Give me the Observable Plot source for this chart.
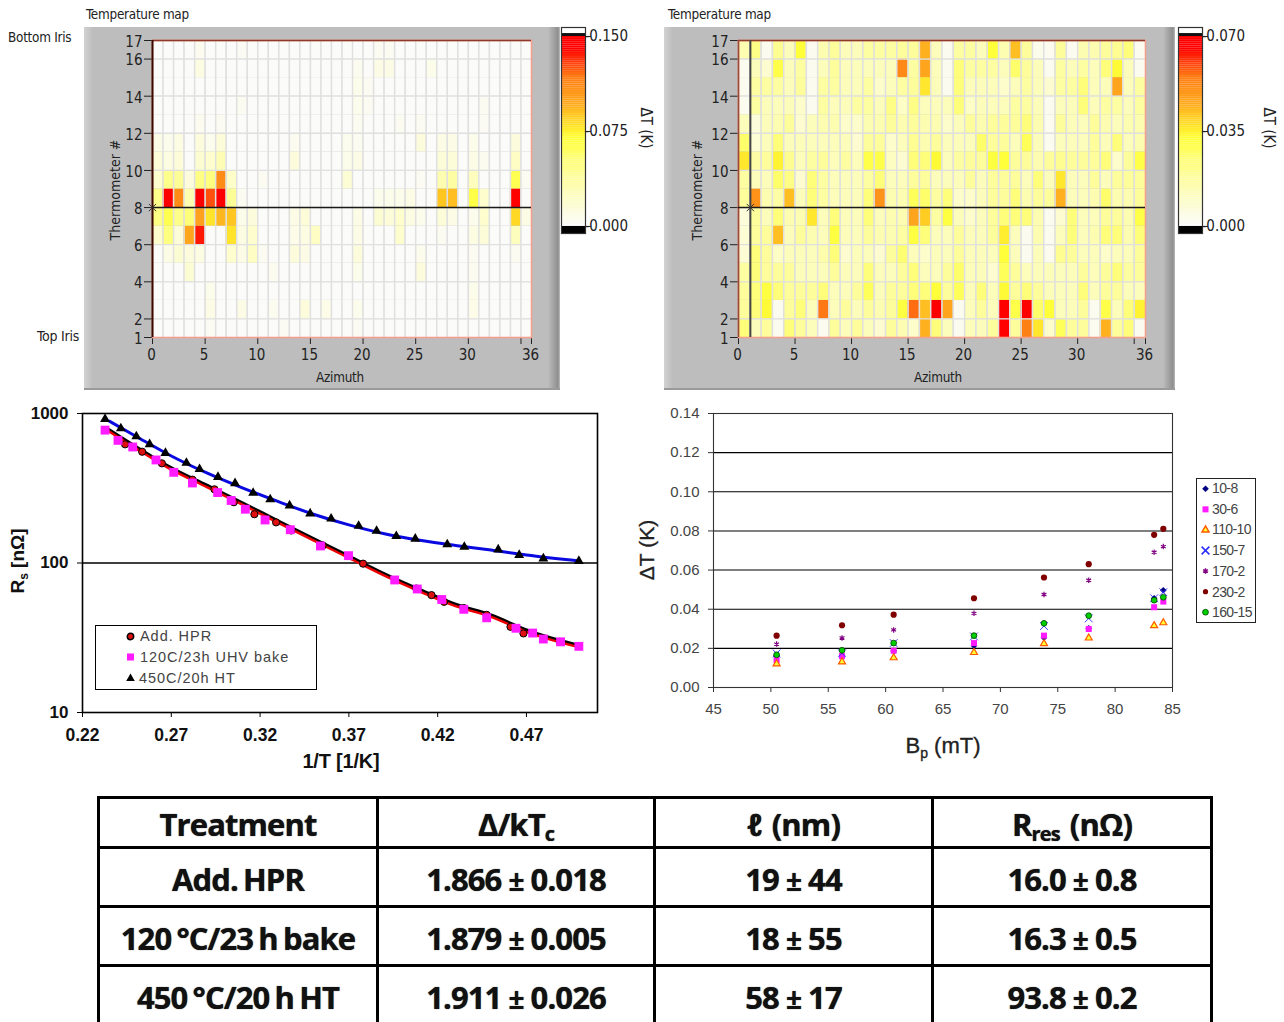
<!DOCTYPE html>
<html><head><meta charset="utf-8">
<script src="https://cdn.jsdelivr.net/npm/d3@7"></script>
<script src="https://cdn.jsdelivr.net/npm/@observablehq/plot@0.6"></script>
<style>
html,body{margin:0;padding:0;background:#fff;}
#page{position:relative;width:1284px;height:1022px;overflow:hidden;background:#fff;}
.abs{position:absolute;}
.abs svg{background:transparent;overflow:visible;display:block;}
.lv{font-family:"Liberation Sans Narrow","DejaVu Sans Condensed",sans-serif;font-size:14px;color:#222;white-space:nowrap;position:absolute;line-height:1;}
.ar{font-family:"Liberation Sans",Arial,sans-serif;white-space:nowrap;position:absolute;line-height:1;}
.panel{position:absolute;background:linear-gradient(to right,#d2d2d2 0,#bdbdbd 9px,#bdbdbd calc(100% - 12px),#8e8e8e calc(100% - 2px),#bdbdbd 100%);border-bottom:2px solid #9a9a9a;box-sizing:border-box;}
table{position:absolute;left:97px;top:796px;width:1113px;border-collapse:collapse;table-layout:fixed;font-family:"Open Sans","Liberation Sans",sans-serif;font-weight:700;color:#111;}
td{border:3px solid #000;text-align:center;padding:4px 0 0 0;font-size:31px;letter-spacing:-.9px;word-spacing:-2px;line-height:1;text-shadow:0 0 1px #333;}
td sub{font-size:20px;vertical-align:-5px;line-height:0;}
td span{font-size:28px;margin:0 7px;}
tr:first-child td{word-spacing:3px;}
</style></head><body><div id="page"></div>
<script>
// ---------- Temperature map 1 (mK, scale 0–150): [azimuth bin, value] per thermometer row
const map1Max = 150;
const map1Row16 = [[4,4],[8,2],[21,3],[22,3]];
const map1Row15 = [[4,10],[19,4],[21,8],[22,8],[26,6]];
const map1Row14 = [[19,6],[20,3]];
const map1Row13 = [[8,3],[19,5],[20,3],[31,3]];
const map1Row12 = [[4,4],[6,3],[19,3],[23,3],[25,3],[31,2]];
const map1Row11 = [[0,8],[1,5],[2,10],[4,12],[5,5],[6,14],[13,4],[18,5],[19,3],[25,12],[27,8],[28,8],[30,6],[34,12]];
const map1Row10 = [[0,14],[1,10],[2,14],[4,16],[5,18],[6,28],[13,12],[18,6],[19,8],[27,14],[28,14],[30,8],[31,4],[34,22]];
const map1Row9 = [[0,18],[1,45],[2,40],[3,12],[4,48],[5,50],[6,110],[7,20],[10,3],[18,15],[25,3],[27,30],[28,35],[30,25],[34,62],[35,3]];
const map1Row8 = [[0,45],[1,145],[2,110],[3,30],[4,145],[5,125],[6,145],[7,40],[8,3],[21,5],[22,6],[23,6],[24,8],[27,88],[28,90],[30,65],[31,18],[34,145]];
const map1Row7 = [[0,48],[1,62],[2,45],[3,52],[4,100],[5,78],[6,92],[7,88],[8,6],[9,12],[13,8],[14,14],[19,8],[21,16],[22,14],[23,18],[24,10],[25,5],[27,14],[28,8],[30,5],[31,18],[34,82],[35,8]];
const map1Row6 = [[0,18],[1,50],[2,14],[3,98],[4,135],[7,78],[8,10],[9,18],[13,7],[14,10],[15,22],[19,8],[23,18],[27,3],[30,10],[31,14],[34,25]];
const map1Row5 = [[1,8],[2,16],[3,12],[4,10],[7,18],[8,8],[9,22],[10,3],[13,12],[14,8],[19,12],[25,5],[30,3],[34,3]];
const map1Row4 = [[3,16],[11,4],[19,6],[25,12],[30,4]];
const map1Row3 = [[5,6],[30,6]];
const map1Row2 = [[5,8],[8,8],[11,4],[14,12],[16,7],[19,5],[30,7]];
const map1Row1 = [[5,2],[12,2],[19,2]];
const map1Rows = [map1Row1,map1Row2,map1Row3,map1Row4,map1Row5,map1Row6,map1Row7,map1Row8,map1Row9,map1Row10,map1Row11,map1Row12,map1Row13,map1Row14,map1Row15,map1Row16];

// ---------- Temperature map 2 (mK, scale 0–70): one value per azimuth bin
const map2Max = 70;
const map2Row16 = [14,22,2,20,12,32,2,14,18,12,12,17,17,17,18,18,44,12,2,17,17,12,32,14,42,18,3,2,18,2,14,14,18,20,24,2];
const map2Row15 = [2,12,8,30,12,17,2,12,18,12,12,12,12,12,52,17,46,12,2,24,17,17,17,12,26,18,12,2,17,12,17,12,24,33,12,2];
const map2Row14 = [2,17,17,17,12,18,2,17,17,12,12,17,9,12,17,18,36,12,2,24,12,12,12,9,12,17,12,8,17,17,24,12,12,46,12,17];
const map2Row13 = [2,17,12,12,12,9,2,17,12,12,17,17,12,22,10,22,12,12,12,24,10,12,12,12,17,17,12,2,12,12,24,12,17,17,12,17];
const map2Row12 = [12,6,12,14,18,8,12,14,14,9,9,14,14,18,14,18,14,14,9,12,18,14,18,18,18,24,14,2,18,12,12,18,14,12,14,14];
const map2Row11 = [26,7,12,24,12,12,12,12,12,12,8,18,18,9,12,20,14,18,12,12,12,26,18,18,12,28,12,2,12,12,12,18,12,24,12,14];
const map2Row10 = [36,16,18,34,20,12,17,18,12,17,12,30,30,11,8,24,24,33,12,17,18,18,31,32,18,18,14,18,20,18,18,18,24,9,18,30];
const map2Row9 = [17,12,12,26,22,8,24,17,12,12,12,17,24,12,12,18,18,12,12,12,18,12,18,18,18,12,24,12,36,12,12,18,12,18,18,18];
const map2Row8 = [18,50,14,16,42,12,24,17,12,12,12,24,50,14,14,28,26,17,24,9,9,12,18,18,24,14,18,18,44,12,12,14,26,14,14,18];
const map2Row7 = [6,18,12,24,14,14,36,12,24,12,12,24,12,14,14,46,40,17,31,12,9,12,18,24,24,24,14,2,8,24,12,12,18,18,14,30];
const map2Row6 = [7,18,18,42,12,18,14,12,31,12,12,18,14,14,17,31,24,12,12,18,12,12,18,35,12,2,14,2,12,24,12,14,24,24,14,24];
const map2Row5 = [7,24,18,10,12,12,12,15,24,8,12,12,8,18,25,12,9,12,12,18,12,12,12,32,12,2,12,2,20,18,12,12,9,12,12,18];
const map2Row4 = [17,24,18,18,18,12,12,12,18,12,12,24,12,12,18,24,12,12,18,26,12,12,8,28,18,12,12,12,12,12,18,12,18,24,17,18];
const map2Row3 = [18,24,31,24,18,18,18,24,12,12,18,28,12,18,18,24,24,32,18,28,12,24,12,33,18,24,18,12,12,12,24,12,18,18,12,12];
const map2Row2 = [18,24,33,2,18,24,12,55,12,18,12,18,14,18,31,56,42,68,46,2,12,18,12,70,30,67,26,32,12,12,18,2,30,12,24,34];
const map2Row1 = [24,12,18,2,24,18,12,2,18,12,18,12,8,18,14,9,44,24,12,2,12,12,18,65,18,54,36,9,28,18,18,2,44,18,24,2];
const map2Rows = [map2Row1,map2Row2,map2Row3,map2Row4,map2Row5,map2Row6,map2Row7,map2Row8,map2Row9,map2Row10,map2Row11,map2Row12,map2Row13,map2Row14,map2Row15,map2Row16];

const yTicks = [1,2,4,6,8,10,12,14,16,17];
const xTicks = [0,5,10,15,20,25,30,35,36];
const colorStops = [0,.06,.17,.24,.34,.46,.56,.64,.78,.93,1];
const colorRange = ["#fbfbf9","#fcfce4","#fdfdbc","#fdfda2","#fefe7c","#ffff38","#ffd223","#ffaa1e","#ff7d14","#ff0000","#ff0000"];

// ---------- Rs(1/T)
const hprX = [.2440,.2536,.2647,.2819,.2943,.3052,.3168,.3290,.3375,.3553,.3780,.4080,.4165,.4236,.4347,.4476,.4610,.4683,.4888];
const hprY = [622,555,464,361,311,255,212,187,165,131,99,67.5,61,55,50,45,37.4,33.8,29.7];
const bakeX = [.2327,.2400,.2483,.2614,.2714,.2819,.2961,.3037,.3117,.3228,.3370,.3540,.3698,.3958,.4085,.4223,.4347,.4476,.4641,.4735,.4795,.4892,.4995];
const bakeY = [774,661,597,489,404,343,296,262,229,194,167,130,112,77,67,57,49,43,36.6,34,31,29.7,27.7];
const htX = [.2327,.2416,.2503,.2578,.2667,.2785,.2859,.2963,.3059,.3161,.3257,.3366,.3482,.3600,.3755,.3856,.3967,.4074,.4254,.4350,.4541,.4659,.4795,.4995];
const htY = [917,794,702,622,544,467,424,376,341,294,266,242,214,198,177,164,151,145,133,128,123,113,107,103];
const fitX = [.235,.25,.27,.29,.31,.33,.35,.37,.39,.41,.43,.45,.47,.50];
const fitLowY = [765,590,425,325,248,188,143,109,83,65,52,44,35,27.5];
const fitHighY = [890,705,520,400,318,258,212,180,157,142,131,122,113,103];
const rsXTicks = [.22,.27,.32,.37,.42,.47];
const rsYTicks = [10,100,1000];

// ---------- ΔT(Bp)
const bp = [50.5,56.2,60.7,67.7,73.8,77.7,83.4,84.2];
const dt10_8 = [.0162,.0164,.0186,.0213,.0254,.0302,.0456,.0497];
const dt30_6 = [.014,.016,.0188,.0227,.0265,.0299,.041,.0439];
const dt110_10 = [.0121,.0131,.0152,.0179,.0224,.0253,.0316,.0331];
const dt150_7 = [.0174,.0175,.0227,.0261,.0314,.0353,.0456,.0487];
const dt170_2 = [.0222,.0253,.0294,.0379,.0475,.0548,.0691,.072];
const dt230_2 = [.0265,.0318,.0372,.0456,.0562,.063,.078,.0811];
const dt160_15 = [.0167,.019,.0227,.0265,.0328,.0367,.0446,.0461];

// ---------- table
const pm = '<span>±</span>';
const tableHeads = ['Treatment','Δ/kT<sub>c</sub>','<i>ℓ</i> (nm)','R<sub>res</sub> (nΩ)'];
const tableRow1 = ['Add. HPR','1.866'+pm+'0.018','19'+pm+'44','16.0'+pm+'0.8'];
const tableRow2 = ['120 °C/23 h bake','1.879'+pm+'0.005','18'+pm+'55','16.3'+pm+'0.5'];
const tableRow3 = ['450 °C/20 h HT','1.911'+pm+'0.026','58'+pm+'17','93.8'+pm+'0.2'];

const page = document.getElementById('page');
function place(node,x,y){const d=document.createElement('div');d.className='abs';d.style.left=x+'px';d.style.top=y+'px';d.appendChild(node);page.appendChild(d);return d;}
function txt(cls,s,x,y,extra){const d=document.createElement('div');d.className=cls;d.innerHTML=s;d.style.left=x+'px';d.style.top=y+'px';if(extra)Object.assign(d.style,extra);page.appendChild(d);return d;}
function panel(x,y,w,h){const d=document.createElement('div');d.className='panel';Object.assign(d.style,{left:x+'px',top:y+'px',width:w+'px',height:h+'px'});page.appendChild(d);}
const narrow='"Liberation Sans Narrow","DejaVu Sans Condensed",sans-serif';

function heatmap(rows,maxV,sparse,o){
  const cells = sparse
    ? d3.range(16).flatMap(r=>{const m=new Map(rows[r]);return d3.range(36).map(c=>({c,r:r+1,v:m.get(c)||0}));})
    : rows.flatMap((row,r)=>row.map((v,c)=>({c,r:r+1,v})));
  return Plot.plot({
    width:o.w,height:363,marginLeft:o.ml,marginRight:o.w-o.ml-o.pw,marginTop:13,marginBottom:53,
    x:{domain:[0,36],label:null,axis:null},
    y:{domain:[1,17],label:null,axis:null},
    color:{type:"linear",domain:colorStops.map(f=>f*maxV),range:colorRange,clamp:true,interpolate:"rgb"},
    marks:[
      Plot.rect(cells,{x1:d=>d.c,x2:d=>d.c+1,y1:d=>d.r,y2:d=>d.r+1,fill:d=>d.v}),
      Plot.ruleX(d3.range(1,36),{stroke:"#e0e0e0",strokeWidth:1.5}),
      Plot.ruleY([2,4,6,8,10,12,14,16],{stroke:"#e0e0e0",strokeWidth:1.3}),
      Plot.axisX(xTicks,{anchor:"bottom",tickSize:7,tickFormat:()=>"",label:null,stroke:"#222"}),
      Plot.axisX(xTicks,{anchor:"bottom",tickSize:0,tickPadding:12,dx:-1,label:null,stroke:"none",fontSize:15,fontFamily:narrow,fill:"#222",tickFormat:d=>d===35?"":d}),
      Plot.axisY(yTicks,{anchor:"left",tickSize:8,tickFormat:()=>"",label:null,stroke:"#222"}),
      Plot.axisY(yTicks,{anchor:"left",tickSize:0,tickPadding:10,dy:1.5,label:null,stroke:"none",fontSize:15,fontFamily:narrow,fill:"#222"}),
      Plot.frame({stroke:"#f4a08f",strokeWidth:1.6}),
      Plot.ruleY([17],{stroke:"#8c3a2a",strokeWidth:1.6}),
      Plot.ruleX([0],{stroke:o.leftStroke,strokeWidth:o.leftW}),
      Plot.ruleY([8],{stroke:"#1a1a1a",strokeWidth:1.6}),
      o.cross>0?Plot.ruleX([o.cross],{stroke:"#444",strokeWidth:2}):null,
      Plot.dot([[o.cross,8]],{x:d=>d[0],y:d=>d[1],symbol:"times",r:3.4,stroke:"#333",strokeWidth:1})
    ]
  });
}
function colorbar(maxV,fmt,w){
  const top=maxV*(1+9/189), bot=-maxV*7/189;
  const levels=d3.range(0,100).map(i=>i/100*maxV);
  const step=maxV/100;
  return Plot.plot({
    width:w,height:206,marginLeft:0,marginRight:w-24,marginTop:0,marginBottom:0,
    x:{domain:[0,1],axis:null},
    y:{domain:[bot,top],axis:null},
    color:{type:"linear",domain:colorStops.map(f=>f*maxV),range:colorRange,clamp:true,interpolate:"rgb"},
    marks:[
      Plot.rect(levels,{x1:0,x2:1,y1:d=>d,y2:d=>d+step*1.05,fill:d=>d}),
      Plot.rect([0],{x1:0,x2:1,y1:bot,y2:0,fill:"#000"}),
      Plot.rect([0],{x1:0,x2:1,y1:maxV,y2:maxV*(1+3/189),fill:"#111"}),
      Plot.rect([0],{x1:0,x2:1,y1:maxV*(1+3/189),y2:top,fill:"#fff"}),
      Plot.frame({stroke:"#333",strokeWidth:1.2}),
      Plot.axisY([0,maxV/2,maxV],{anchor:"right",tickSize:5,tickPadding:-6,label:null,stroke:"#222",fill:"#222",fontSize:15,fontFamily:narrow,tickFormat:fmt})
    ]
  });
}

// panels
panel(84,27,476,363);
panel(664,27,511,363);
place(heatmap(map1Rows,map1Max,true,{w:476,ml:68,pw:379,cross:0,leftStroke:"#3a0a00",leftW:2}),84,27);
place(heatmap(map2Rows,map2Max,false,{w:511,ml:74,pw:407,cross:1.05,leftStroke:"#9a4a38",leftW:1.6}),664,27);
place(colorbar(.15,d=>"-"+d.toFixed(3),80),561,27);
place(colorbar(.07,d=>"-"+d.toFixed(3),80),1178,27);

const lab={fontSize:'13.4px',letterSpacing:'-.25px'};
txt('lv','Temperature map',86,8,lab);
txt('lv','Temperature map',668,8,lab);
txt('lv','Bottom Iris',8,31,lab);
txt('lv','Top Iris',37,329,{...lab,fontSize:'14px'});
txt('lv','Azimuth',316,371,lab);
txt('lv','Azimuth',914,371,lab);
txt('lv','Thermometer #',115,190,{transform:'translate(-50%,-50%) rotate(-90deg)'});
txt('lv','Thermometer #',697,190,{transform:'translate(-50%,-50%) rotate(-90deg)'});
txt('lv','ΔT (K)',645,128,{transform:'translate(-50%,-50%) rotate(90deg)',fontSize:'15px'});
txt('lv','ΔT (K)',1268,128,{transform:'translate(-50%,-50%) rotate(90deg)',fontSize:'15px'});

// Rs plot
const zip=(xs,ys)=>xs.map((x,i)=>({x,y:ys[i]}));
const rsFont='"Liberation Sans",Arial,sans-serif';
const fitOpts={x:"x",y:"y",curve:"monotone-x"};
place(Plot.plot({
  width:620,height:385,marginLeft:82,marginRight:23,marginTop:18,marginBottom:68,
  x:{domain:[.22,.51],label:null,axis:null},
  y:{type:"log",domain:[10,1000],label:null,axis:null},
  marks:[
    Plot.ruleY([100],{stroke:"#000",strokeWidth:1.6}),
    Plot.line(zip(fitX,fitLowY),{...fitOpts,stroke:"#000",strokeWidth:3.6,dy:-1}),
    Plot.line(zip(fitX,fitLowY),{...fitOpts,stroke:"#f00000",strokeWidth:2.4,dy:.6}),
    Plot.line(zip(fitX,fitHighY),{...fitOpts,stroke:"#0a0ae0",strokeWidth:3}),
    Plot.dot(zip(hprX,hprY),{x:"x",y:"y",r:3.6,fill:"#e01010",stroke:"#000",strokeWidth:1}),
    Plot.dot(zip(htX,htY),{x:"x",y:"y",symbol:"triangle",r:3.7,fill:"#000"}),
    Plot.dot(zip(bakeX,bakeY),{x:"x",y:"y",symbol:"square",r:5,fill:"#ff1aff"}),
    Plot.frame({stroke:"#000",strokeWidth:1.6}),
    Plot.axisX(rsXTicks,{anchor:"bottom",tickSize:5,tickPadding:11,label:null,stroke:"#000",fill:"#111",fontSize:17.5,fontWeight:700,fontFamily:rsFont,tickFormat:d=>d.toFixed(2)}),
    Plot.axisY(rsYTicks,{anchor:"left",tickSize:5,tickPadding:9,label:null,stroke:"#000",fill:"#111",fontSize:17,fontWeight:700,fontFamily:rsFont,tickFormat:d=>String(d)})
  ]
}),0,395);
txt('ar','1/T [1/K]',341,761,{transform:'translate(-50%,-50%)',fontWeight:700,fontSize:'20px',letterSpacing:'-.2px',color:'#111'});
txt('ar','R<sub style="font-size:12px;line-height:0">s</sub> [nΩ]',17,561,{transform:'translate(-50%,-50%) rotate(-90deg)',fontWeight:700,fontSize:'19px',color:'#111'});

// Rs legend
const rsLegend=document.createElement('div');
Object.assign(rsLegend.style,{position:'absolute',left:'95px',top:'625px',width:'220px',height:'63px',border:'1px solid #000',background:'#fff'});
page.appendChild(rsLegend);
const rsKeyLabels=['Add. HPR','120C/23h UHV bake','450C/20h HT'];
const rsKeyY=[636,657,678];
place(Plot.plot({width:30,height:63,margin:0,x:{domain:[0,1],axis:null},y:{domain:[0,2],axis:null,reverse:true},
  marks:[
   Plot.dot([0],{x:.5,y:0,dy:11,r:3.2,fill:"#e01010",stroke:"#000"}),
   Plot.dot([0],{x:.5,y:1,symbol:"square",r:4,fill:"#ff1aff"}),
   Plot.dot([0],{x:.5,y:2,dy:-10,symbol:"triangle",r:3.2,fill:"#000"})
  ]}),115,625);
rsKeyLabels.forEach((s,i)=>txt('ar',s,i==2?139:140,rsKeyY[i]-7,{fontSize:'14.5px',color:'#444',letterSpacing:'.95px'}));

// ΔT plot
const scFont='"Liberation Sans",Arial,sans-serif';
place(Plot.plot({
  width:659,height:385,marginLeft:88,marginRight:112,marginTop:18,marginBottom:93,
  x:{domain:[45,85],label:null,axis:null},
  y:{domain:[0,.14],label:null,axis:null},
  marks:[
    Plot.ruleY([.02,.04,.06,.08,.1,.12],{stroke:"#000",strokeWidth:1.1}),
    Plot.frame({stroke:"#333",strokeWidth:1.1}),
    Plot.dot(zip(bp,dt10_8),{x:"x",y:"y",symbol:"diamond2",r:3,fill:"#000080"}),
    Plot.dot(zip(bp,dt30_6),{x:"x",y:"y",symbol:"square",r:3.4,fill:"#ff1aff"}),
    Plot.dot(zip(bp,dt110_10),{x:"x",y:"y",symbol:"triangle",r:2.6,fill:"#ffff33",stroke:"#ff5a00",strokeWidth:1.2}),
    Plot.dot(zip(bp,dt150_7),{x:"x",y:"y",symbol:"times",r:3.6,stroke:"#2a2aff",strokeWidth:.9}),
    Plot.dot(zip(bp,dt170_2),{x:"x",y:"y",symbol:"asterisk",r:2.6,stroke:"#800080",strokeWidth:1.2}),
    Plot.dot(zip(bp,dt230_2),{x:"x",y:"y",r:3.1,fill:"#800000"}),
    Plot.dot(zip(bp,dt160_15),{x:"x",y:"y",r:2.9,fill:"#00d000",stroke:"#004000",strokeWidth:.8}),
    Plot.axisX(d3.range(45,86,5),{anchor:"bottom",tickSize:5,tickPadding:11,label:null,stroke:"#333",fill:"#444",fontSize:15,fontFamily:scFont,tickFormat:d=>String(d)}),
    Plot.axisY(d3.range(0,.141,.02),{anchor:"left",tickSize:5,tickPadding:9,label:null,stroke:"#333",fill:"#444",fontSize:15,fontFamily:scFont,tickFormat:d=>d.toFixed(2)})
  ]
}),625,395);
const semi={WebkitTextStroke:'.35px #222'};
txt('ar','ΔT (K)',646,550,{transform:'translate(-50%,-50%) rotate(-90deg)',fontSize:'21px',color:'#222',...semi});
txt('ar','B<sub style="font-size:14px;line-height:0">p</sub> (mT)',943,746,{transform:'translate(-50%,-50%)',fontSize:'22px',color:'#222',...semi});

// ΔT legend
const dtKeys=['10-8','30-6','110-10','150-7','170-2','230-2','160-15'];
const dtBox=document.createElement('div');
Object.assign(dtBox.style,{position:'absolute',left:'1196px',top:'478px',width:'58px',height:'143px',border:'1.5px solid #222',background:'#fff'});
page.appendChild(dtBox);
place(Plot.plot({width:20,height:144,margin:0,
  x:{domain:[0,1],axis:null},y:{domain:[-.5,6.5],axis:null,reverse:true},
  marks:[
   Plot.dot([0],{x:.5,y:0,symbol:"diamond2",r:3,fill:"#000080"}),
   Plot.dot([1],{x:.5,y:1,symbol:"square",r:3.4,fill:"#ff1aff"}),
   Plot.dot([2],{x:.5,y:2,symbol:"triangle",r:2.6,fill:"#ffff33",stroke:"#ff5a00"}),
   Plot.dot([3],{x:.5,y:3,symbol:"times",r:3.6,stroke:"#2a2aff"}),
   Plot.dot([4],{x:.5,y:4,symbol:"asterisk",r:2.6,stroke:"#800080"}),
   Plot.dot([5],{x:.5,y:5,r:2.6,fill:"#800000"}),
   Plot.dot([6],{x:.5,y:6,r:2.9,fill:"#00d000",stroke:"#004000",strokeWidth:.8})
  ]}),1195,478);
dtKeys.forEach((s,i)=>txt('ar',s,1212,481+i*20.7,{fontSize:'14px',color:'#444',letterSpacing:'-.6px'}));

// table
const tb=document.createElement('table');
const rowsT=[tableHeads,tableRow1,tableRow2,tableRow3];
const hs=[50,59,59,59];
tb.innerHTML='<colgroup><col style="width:279px"><col style="width:277px"><col style="width:278px"><col style="width:279px"></colgroup>'+
  rowsT.map((r,i)=>`<tr style="height:${hs[i]}px">`+r.map(c=>`<td>${c}</td>`).join('')+'</tr>').join('');
page.appendChild(tb);
</script></body></html>
